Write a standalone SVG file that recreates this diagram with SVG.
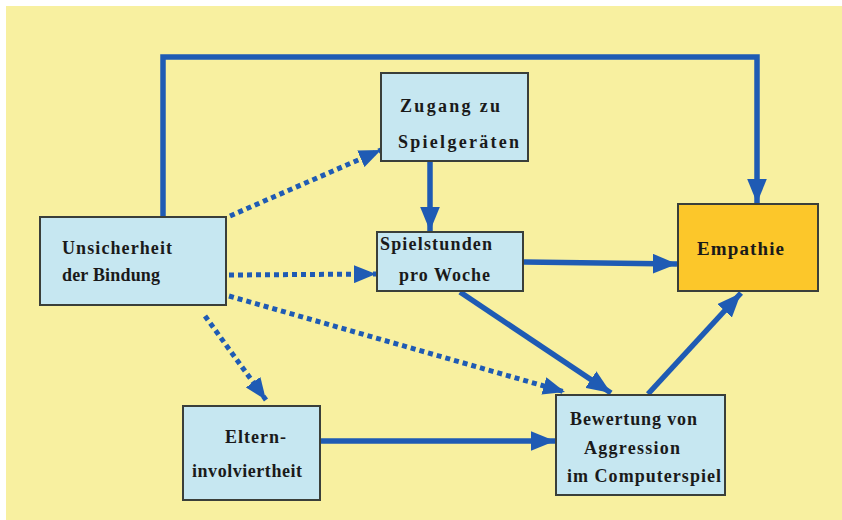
<svg xmlns="http://www.w3.org/2000/svg" width="842" height="520" viewBox="0 0 842 520">
<defs>
<style>
.box{fill:#c6e7f1;stroke:#3a3f3a;stroke-width:2}
.emp{fill:#fcc72a;stroke:#3a3f3a;stroke-width:2}
.t{font-family:"Liberation Serif","Times New Roman",serif;font-weight:bold;font-size:18px;fill:#1a1a1a}
.s{fill:none;stroke:#1f5bb4;stroke-width:5.5}
.d{fill:none;stroke:#1f5bb4;stroke-width:5;stroke-dasharray:5 4}
</style>
<marker id="ah" viewBox="0 0 10 10" refX="10" refY="5" markerWidth="4.4" markerHeight="3.6" markerUnits="strokeWidth" orient="auto" preserveAspectRatio="none">
<path d="M0,0 L10,5 L0,10 Z" fill="#1f5bb4"/>
</marker>
</defs>
<rect x="0" y="0" width="842" height="520" fill="#ffffff"/>
<rect x="6" y="6" width="836" height="514" fill="#f8f0a0"/>
<g id="connectors">
<path class="s" d="M163,217 L163,57 L757,57 L757,203" marker-end="url(#ah)"/>
<path class="d" d="M230,216 L381,150" marker-end="url(#ah)"/>
<path class="d" d="M229,275 L376,274" marker-end="url(#ah)"/>
<path class="d" d="M205,316 L266,400" marker-end="url(#ah)"/>
<path class="d" d="M229,296 L565,392" marker-end="url(#ah)"/>
<path class="s" d="M430,162 L430,231" marker-end="url(#ah)"/>
<path class="s" d="M524,262 L677,264" marker-end="url(#ah)"/>
<path class="s" d="M460,292 L611,393" marker-end="url(#ah)"/>
<path class="s" d="M648,394 L741,293" marker-end="url(#ah)"/>
<path class="s" d="M321,441 L555,441" marker-end="url(#ah)"/>
</g>
<g id="zugang">
<rect class="box" x="381" y="73" width="147" height="88"/>
<text class="t" x="400" y="112" textLength="100" lengthAdjust="spacing">Zugang zu</text>
<text class="t" x="398" y="148" textLength="121" lengthAdjust="spacing">Spielgeräten</text>
</g>
<g id="unsicherheit">
<rect class="box" x="40" y="217" width="186" height="88"/>
<text class="t" x="62" y="254" textLength="110" lengthAdjust="spacing">Unsicherheit</text>
<text class="t" x="62" y="281" textLength="98" lengthAdjust="spacing">der Bindung</text>
</g>
<g id="spielstunden">
<rect class="box" x="377" y="232" width="146" height="59"/>
<text class="t" x="380" y="250" textLength="112" lengthAdjust="spacing">Spielstunden</text>
<text class="t" x="399" y="281" textLength="91" lengthAdjust="spacing">pro Woche</text>
</g>
<g id="empathie">
<rect class="emp" x="678" y="204" width="140" height="87"/>
<text class="t" x="697" y="255" textLength="87" lengthAdjust="spacing" style="font-size:19px">Empathie</text>
</g>
<g id="eltern">
<rect class="box" x="183" y="406" width="137" height="94"/>
<text class="t" x="225" y="443" textLength="61" lengthAdjust="spacing">Eltern-</text>
<text class="t" x="192" y="477" textLength="110" lengthAdjust="spacing">involviertheit</text>
</g>
<g id="bewertung">
<rect class="box" x="556" y="395" width="169" height="100"/>
<text class="t" x="570" y="425" textLength="127" lengthAdjust="spacing">Bewertung von</text>
<text class="t" x="584" y="454" textLength="96" lengthAdjust="spacing">Aggression</text>
<text class="t" x="567" y="482" textLength="154" lengthAdjust="spacing">im Computerspiel</text>
</g>
</svg>
